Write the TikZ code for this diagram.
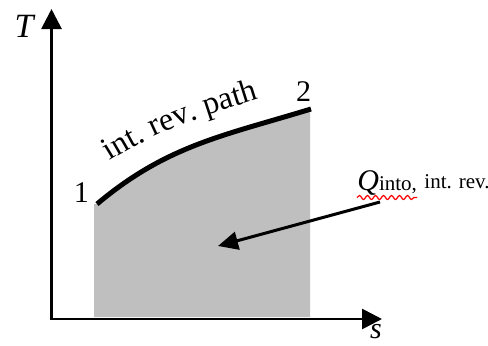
\documentclass[tikz,border=0pt]{standalone}
\usepackage{fontspec}
\setmainfont{Liberation Serif}
\usetikzlibrary{arrows.meta, decorations.text, decorations.pathmorphing}

\begin{document}
\begin{tikzpicture}[x=0.5pt, y=0.5pt,
    axes/.style={line width=1.4pt, {Triangle[length=10pt, width=10pt]}-{Triangle[length=10pt, width=10pt]}},
    heatarrow/.style={line width=1.5pt, -{Triangle[length=10pt, width=9pt]}},
    lbl/.style={font=\fontsize{15}{18}\selectfont, inner sep=0pt}]
    \useasboundingbox (0,0) rectangle (488,345);
    % T-s plane
    \coordinate (Ttip) at (51.5,336);
    \coordinate (Stip) at (382,26);
    \coordinate (P1) at (97,141);
    \coordinate (P2) at (311,236);
    % area under the path
    \fill[gray!50] (94,28) -- (94,141) -- (P1) to[out=40, in=197] (P2) -- (310,236) -- (310,28) -- cycle;
    \draw[axes] (Ttip) |- (Stip);
    \draw[line width=2.5pt] (P1) to[out=40, in=197] (P2);
    \path[decorate, decoration={text along path, text align=left,
        text format delimiters={|}{|},
        text={|\fontsize{16}{18}\selectfont|int. rev. path}}]
        (110,184) to[out=32, in=198] (275,251);
    \node[lbl] (one) at (81.5,152.5) {1};
    \node[lbl] (two) at (303.5,253) {2};
    \node[font=\fontsize{17}{20}\selectfont\itshape] (Tlab) at (24,319) {T};
    \node[font=\fontsize{15}{18}\selectfont\itshape] (slab) at (376,13) {s};
    % heat label
    \node[anchor=base west, inner sep=0pt] (qlab) at (357,155)
        {\fontsize{15}{18}\selectfont\textit{Q}{\fontsize{10.5}{12}\selectfont into,} \raisebox{1pt}{\fontsize{10.5}{12}\selectfont int. rev.}};
    \coordinate (wavyA) at (357,147.5);
    \coordinate (wavyB) at (417,147.5);
    \draw[red, line width=0.6pt, decorate, decoration={snake, amplitude=1pt, segment length=4pt}] (wavyA) -- (wavyB);
    \coordinate (qfrom) at (380,143);
    \coordinate (qto) at (218,99);
    \draw[heatarrow] (qfrom) -- (qto);
\end{tikzpicture}
\end{document}
